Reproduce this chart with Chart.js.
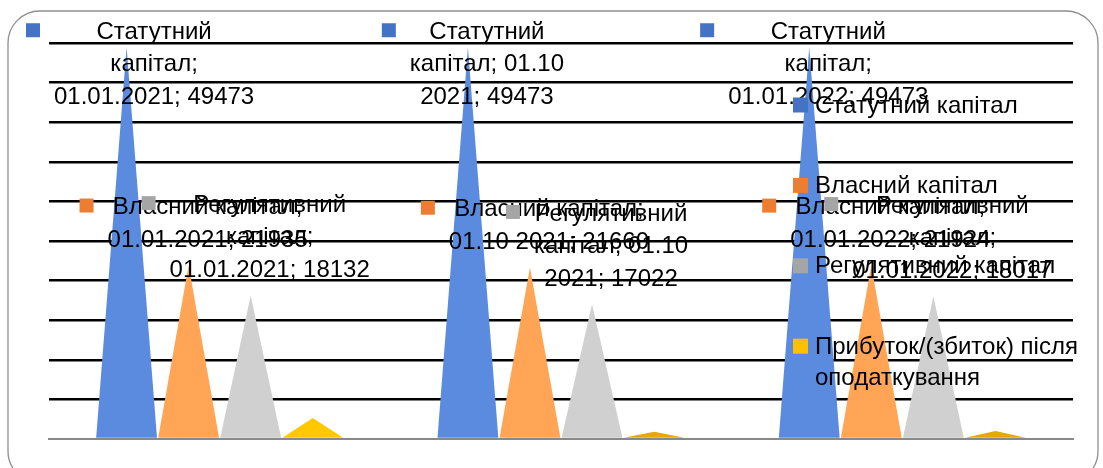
<!DOCTYPE html>
<html lang="uk">
<head>
<meta charset="utf-8">
<title>Капітал банку</title>
<script src="https://cdn.jsdelivr.net/npm/chart.js@4/dist/chart.umd.min.js"></script>
<style>
  html, body { margin: 0; padding: 0; background: #ffffff; }
  #wrap { width: 1103px; height: 468px; position: relative; }
</style>
</head>
<body>
<div id="wrap"><canvas id="chart" width="1103" height="468"></canvas></div>
<script>
// Reporting dates
const dates = ['01.01.2021', '01.10 2021', '01.01.2022'];

// Series names
const seriesNames = [
  'Статутний капітал',
  'Власний капітал',
  'Регулятивний капітал',
  'Прибуток/(збиток) після оподаткування'
];

// Values, thousand UAH
const statutoryCapital = [49473, 49473, 49473];
const equityCapital = [21935, 21660, 21924];
const regulatoryCapital = [18132, 17022, 18017];
const netProfit = [2650, 900, 1000];

// Which series carry value labels
const labelledSeries = [true, true, true, false];

// Value axis
const axisMin = 0;
const axisMax = 50000;
const axisStep = 5000;

const keyColors = ['#4472C4', '#ED7D31', '#A5A5A5', '#FFC000'];
const pyramidColors = ['#5B8BDE', '#FFA555', '#D0D0D0', ['#FFC800', '#E3AA00', '#E3AA00']];

const FONT = '24px "Liberation Sans", Arial, sans-serif';

const seriesValues = [statutoryCapital, equityCapital, regulatoryCapital, netProfit];

function wrapText(ctx, text, maxWidth) {
  const words = text.split(' ');
  const lines = [];
  let cur = '';
  for (const w of words) {
    const test = cur ? cur + ' ' + w : w;
    if (cur && ctx.measureText(test).width > maxWidth) {
      lines.push(cur);
      cur = w;
    } else {
      cur = test;
    }
  }
  if (cur) lines.push(cur);
  return lines;
}

// Rounded frame around the whole chart
const framePlugin = {
  id: 'frame',
  beforeDraw(chart) {
    const ctx = chart.ctx;
    ctx.save();
    ctx.strokeStyle = '#8f8f8f';
    ctx.lineWidth = 1.3;
    ctx.beginPath();
    ctx.roundRect(8, 11, 1090, 472, 32);
    ctx.stroke();
    ctx.restore();
  }
};

// Bars are drawn as flat pyramids (triangles) from the bar geometry
const pyramidPlugin = {
  id: 'pyramids',
  beforeDatasetDraw(chart, args) {
    const ctx = chart.ctx;
    const meta = args.meta;
    const ds = chart.data.datasets[args.index];
    ctx.save();
    meta.data.forEach((el, i) => {
      const half = el.width / 2;
      const fill = Array.isArray(ds.pyramidColor) ? ds.pyramidColor[i] : ds.pyramidColor;
      ctx.fillStyle = fill;
      ctx.beginPath();
      ctx.moveTo(el.x - half, el.base);
      ctx.lineTo(el.x, el.y);
      ctx.lineTo(el.x + half, el.base);
      ctx.closePath();
      ctx.fill();
    });
    ctx.restore();
    return false;
  }
};

// Value labels with legend keys: "series; date; value"
const valueLabelPlugin = {
  id: 'valueLabels',
  afterDatasetsDraw(chart, args, opts) {
    const ctx = chart.ctx;
    ctx.save();
    ctx.font = FONT;
    ctx.textAlign = 'center';
    ctx.textBaseline = 'middle';
    chart.data.datasets.forEach((ds, di) => {
      if (!ds.showValueLabel) return;
      const meta = chart.getDatasetMeta(di);
      meta.data.forEach((el, i) => {
        const text = ds.label + '; ' + chart.data.labels[i] + '; ' + ds.data[i];
        const lines = wrapText(ctx, text, opts.wrapWidth);
        const W = Math.max(...lines.map(l => ctx.measureText(l).width));
        const boxW = opts.keySize + opts.keyGap + W;
        let left = el.x + opts.shiftX - boxW / 2;
        left = Math.max(left, opts.minLeft);
        let top = el.y - opts.gapY - lines.length * opts.lineHeight;
        top = Math.max(top, opts.minTop);
        ctx.fillStyle = ds.backgroundColor;
        ctx.fillRect(left, top + opts.lineHeight / 2 - 2 - opts.keySize / 2, opts.keySize, opts.keySize);
        ctx.fillStyle = '#000000';
        const cx = left + opts.keySize + opts.keyGap + W / 2;
        lines.forEach((l, li) => {
          ctx.fillText(l, cx, top + opts.lineHeight * (li + 0.5));
        });
      });
    });
    ctx.restore();
  }
};

// Legend drawn at the right, over the plot
const sideLegendPlugin = {
  id: 'sideLegend',
  afterDatasetsDraw(chart, args, opts) {
    const ctx = chart.ctx;
    ctx.save();
    ctx.font = FONT;
    ctx.textAlign = 'left';
    ctx.textBaseline = 'middle';
    chart.data.datasets.forEach((ds, di) => {
      const y = opts.top + di * opts.spacing;
      ctx.fillStyle = ds.backgroundColor;
      ctx.fillRect(opts.left, y - opts.keySize / 2 - 1, opts.keySize, opts.keySize);
      ctx.fillStyle = '#000000';
      const lines = wrapText(ctx, ds.label, opts.wrapWidth);
      lines.forEach((l, li) => {
        ctx.fillText(l, opts.left + opts.keySize + opts.textGap, y + li * opts.lineHeight);
      });
    });
    ctx.restore();
  }
};

const datasets = seriesNames.map((name, i) => ({
  label: name,
  data: seriesValues[i],
  backgroundColor: keyColors[i],
  pyramidColor: pyramidColors[i],
  showValueLabel: labelledSeries[i],
  borderWidth: 0,
  categoryPercentage: 4 / 5.5,
  barPercentage: 0.98
}));

new Chart(document.getElementById('chart'), {
  type: 'bar',
  data: { labels: dates, datasets },
  plugins: [framePlugin, pyramidPlugin, valueLabelPlugin, sideLegendPlugin],
  options: {
    responsive: false,
    animation: false,
    devicePixelRatio: 1,
    layout: { padding: { left: 49, right: 30, top: 43, bottom: 29 } },
    plugins: {
      legend: { display: false },
      tooltip: { enabled: false },
      valueLabels: {
        wrapWidth: 202, lineHeight: 32.5, keySize: 14, keyGap: 14,
        shiftX: 5, gapY: 9, minLeft: 26, minTop: 16
      },
      sideLegend: {
        left: 793, top: 106, spacing: 80.4, keySize: 15, textGap: 7,
        lineHeight: 31, wrapWidth: 280
      }
    },
    scales: {
      x: {
        z: 1,
        ticks: { display: false },
        grid: { display: false, drawTicks: false },
        border: { display: true, color: '#898989', width: 2 }
      },
      y: {
        min: axisMin,
        max: axisMax,
        ticks: { display: false, stepSize: axisStep },
        grid: {
          drawTicks: false,
          lineWidth: 2.5,
          color: c => (c.tick && c.tick.value === 0) ? 'rgba(0,0,0,0)' : '#000000'
        },
        border: { display: false }
      }
    }
  }
});
</script>
</body>
</html>
